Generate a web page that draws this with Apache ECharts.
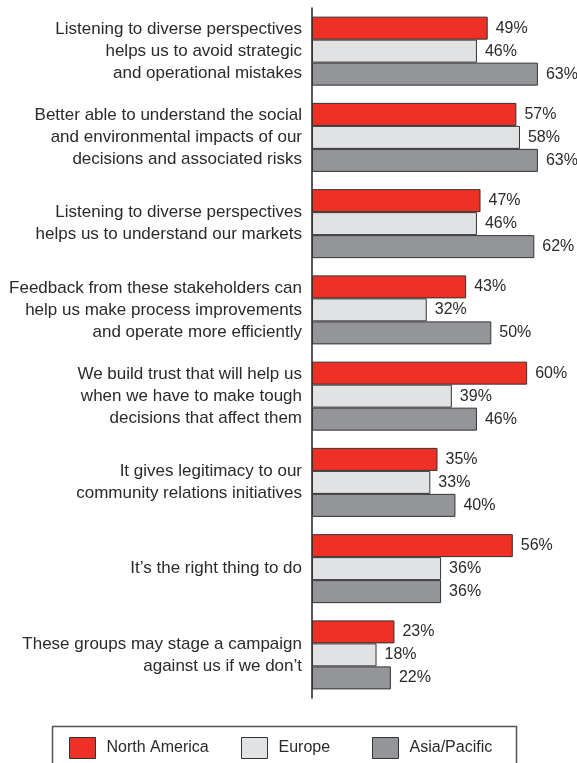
<!DOCTYPE html>
<html>
<head>
<meta charset="utf-8">
<script src="https://cdn.jsdelivr.net/npm/echarts@6/dist/echarts.min.js"></script>
<style>
html,body{margin:0;padding:0;background:#fff;}
#chart{width:577px;height:763px;}
</style>
</head>
<body>
<div id="chart"></div>
<script>
const categories = [
  "Listening to diverse perspectives\nhelps us to avoid strategic\nand operational mistakes",
  "Better able to understand the social\nand environmental impacts of our\ndecisions and associated risks",
  "Listening to diverse perspectives\nhelps us to understand our markets",
  "Feedback from these stakeholders can\nhelp us make process improvements\nand operate more efficiently",
  "We build trust that will help us\nwhen we have to make tough\ndecisions that affect them",
  "It gives legitimacy to our\ncommunity relations initiatives",
  "It\u2019s the right thing to do",
  "These groups may stage a campaign\nagainst us if we don\u2019t"
];
const seriesNames = ["North America", "Europe", "Asia/Pacific"];
const northAmerica = [49, 57, 47, 43, 60, 35, 56, 23];
const europe = [46, 58, 46, 32, 39, 33, 36, 18];
const asiaPacific = [63, 63, 62, 50, 46, 40, 36, 22];

const colors = ['#ee3124', '#e1e2e3', '#939598'];
const font = 'Liberation Sans, Arial, sans-serif';

const chart = echarts.init(document.getElementById('chart'));

function mkSeries(name, data, color) {
  return {
    name: name,
    type: 'bar',
    data: data,
    barGap: '0%',
    barCategoryGap: '20%',
    itemStyle: { color: color, borderColor: '#333', borderWidth: 1 },
    label: {
      show: true,
      position: 'right',
      distance: 8,
      formatter: '{c}%',
      color: '#2a2a2a',
      fontSize: 16,
      fontFamily: font
    },
    emphasis: { disabled: true },
    animation: false
  };
}

const legendCommon = {
  top: 737,
  itemWidth: 26,
  itemHeight: 21,
  itemGap: 0,
  padding: 0,
  textStyle: { fontSize: 16, color: '#2a2a2a', fontFamily: font, padding: [0, 0, 0, 6] },
  itemStyle: { borderColor: '#333', borderWidth: 1 },
  selectedMode: false,
  icon: 'rect'
};

chart.setOption({
  animation: false,
  grid: { left: 312, right: 14, top: 8, bottom: 65, containLabel: false },
  xAxis: {
    type: 'value',
    min: 0,
    max: 70,
    show: false
  },
  yAxis: {
    type: 'category',
    data: categories,
    inverse: true,
    axisLine: { show: true, lineStyle: { color: '#222', width: 1.5 } },
    axisTick: { show: false },
    axisLabel: {
      margin: 10,
      fontSize: 17,
      lineHeight: 22,
      color: '#2a2a2a',
      fontFamily: font,
      align: 'right'
    }
  },
  legend: [
    Object.assign({}, legendCommon, { left: 69, data: [seriesNames[0]] }),
    Object.assign({}, legendCommon, { left: 241, data: [seriesNames[1]] }),
    Object.assign({}, legendCommon, { left: 372, data: [seriesNames[2]] })
  ],
  graphic: [{
    type: 'rect',
    left: 50,
    top: 724,
    shape: { width: 464, height: 50 },
    style: { fill: 'none', stroke: '#555', lineWidth: 1.5 },
    silent: true
  }],
  series: [
    mkSeries(seriesNames[0], northAmerica, colors[0]),
    mkSeries(seriesNames[1], europe, colors[1]),
    mkSeries(seriesNames[2], asiaPacific, colors[2])
  ]
});
</script>
</body>
</html>
